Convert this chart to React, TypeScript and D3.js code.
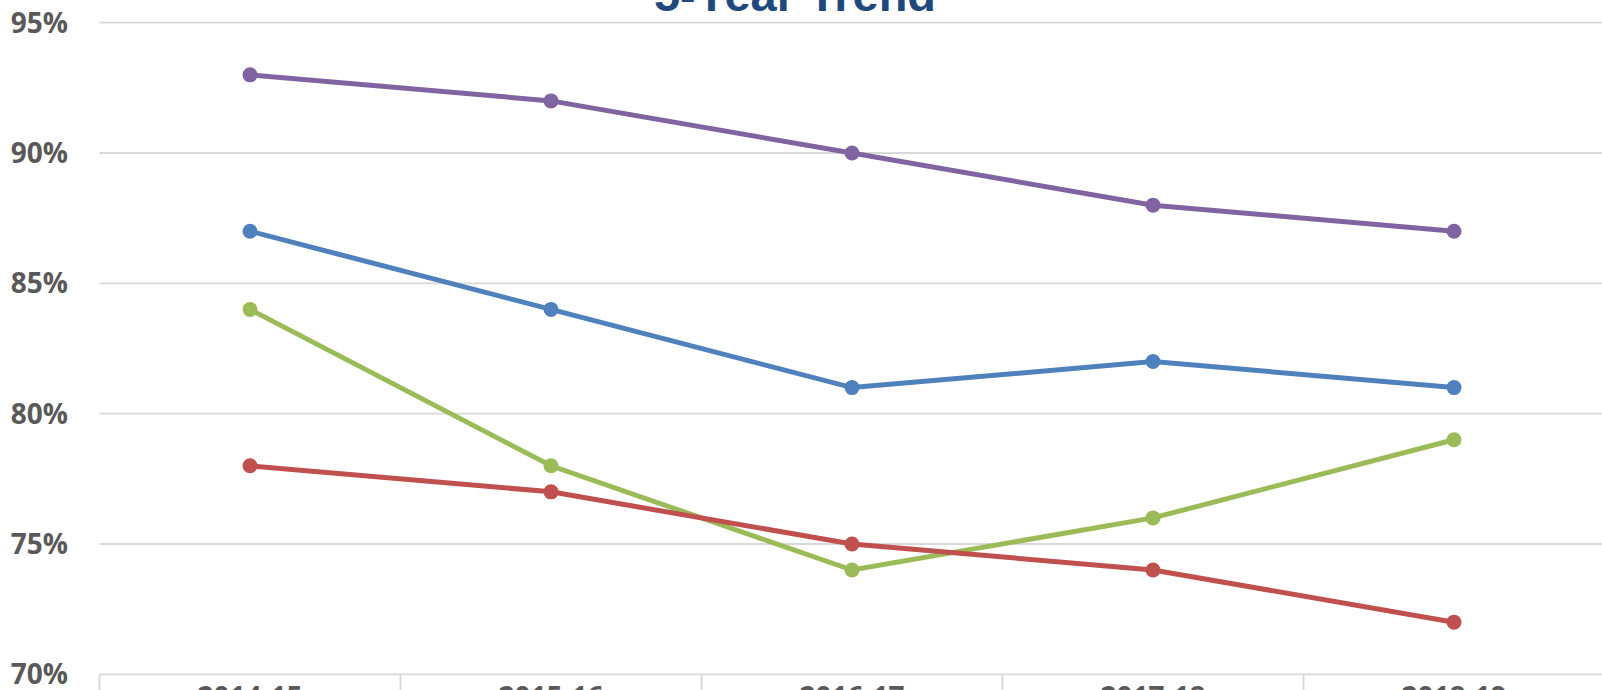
import React from "react";
import * as d3 from "d3";

const years = ["2014-15", "2015-16", "2016-17", "2017-18", "2018-19"];
const yTicks = [70, 75, 80, 85, 90, 95];

const purple = [93, 92, 90, 88, 87];
const blue = [87, 84, 81, 82, 81];
const green = [84, 78, 74, 76, 79];
const red = [78, 77, 75, 74, 72];

const series = [
  { name: "purple", color: "#8064A2", values: purple },
  { name: "blue", color: "#4F81BD", values: blue },
  { name: "green", color: "#9BBB59", values: green },
  { name: "red", color: "#C0504D", values: red },
];

const W = 1602;
const H = 690;
const left = 99.5;
const right = 1604.5;

export default function App() {
  const x = d3.scaleBand<string>().domain(years).range([left, right]);
  const y = d3.scaleLinear().domain([70, 95]).range([674.3, 22.7]);
  const cx = (d: string) => (x(d) ?? 0) + x.bandwidth() / 2;

  const line = d3
    .line<number>()
    .x((_, i) => cx(years[i]))
    .y((d) => y(d));

  const boundaries = years.map((d) => x(d) ?? 0).concat([right]);

  return (
    <svg
      width={W}
      height={H}
      style={{ position: "absolute", left: 0, top: 0, display: "block", background: "#fff" }}
    >
      {/* gridlines */}
      <g stroke="#d9d9d9" strokeWidth={1.8}>
        {yTicks.map((t) => (
          <line key={t} x1={left} x2={right} y1={y(t)} y2={y(t)} />
        ))}
        {boundaries.map((b, i) => (
          <line key={i} x1={b} x2={b} y1={y(70)} y2={H + 10} />
        ))}
      </g>

      {/* y labels */}
      <g
        fontFamily="'Open Sans', sans-serif"
        fontWeight="bold"
        fontSize={28}
        fill="#595959"
        textAnchor="end"
      >
        {yTicks.map((t) => (
          <text key={t} x={68} y={y(t)} dy="0.36em">
            {t}%
          </text>
        ))}
      </g>

      {/* x labels */}
      <g
        fontFamily="'Open Sans', sans-serif"
        fontWeight="bold"
        fontSize={28}
        fill="#595959"
        textAnchor="middle"
      >
        {years.map((d) => (
          <text key={d} x={cx(d)} y={707}>
            {d}
          </text>
        ))}
      </g>

      {/* lines */}
      {series.map((s) => (
        <g key={s.name}>
          <path d={line(s.values) ?? ""} fill="none" stroke={s.color} strokeWidth={5} />
          {s.values.map((v, i) => (
            <circle key={i} cx={cx(years[i])} cy={y(v)} r={7.5} fill={s.color} />
          ))}
        </g>
      ))}

      {/* title */}
      <text
        x={795}
        y={11}
        textAnchor="middle"
        fontFamily="'Liberation Sans', Arial, sans-serif"
        fontWeight="bold"
        fontSize={47}
        fill="#1F497D"
      >
        5-Year Trend
      </text>
    </svg>
  );
}
